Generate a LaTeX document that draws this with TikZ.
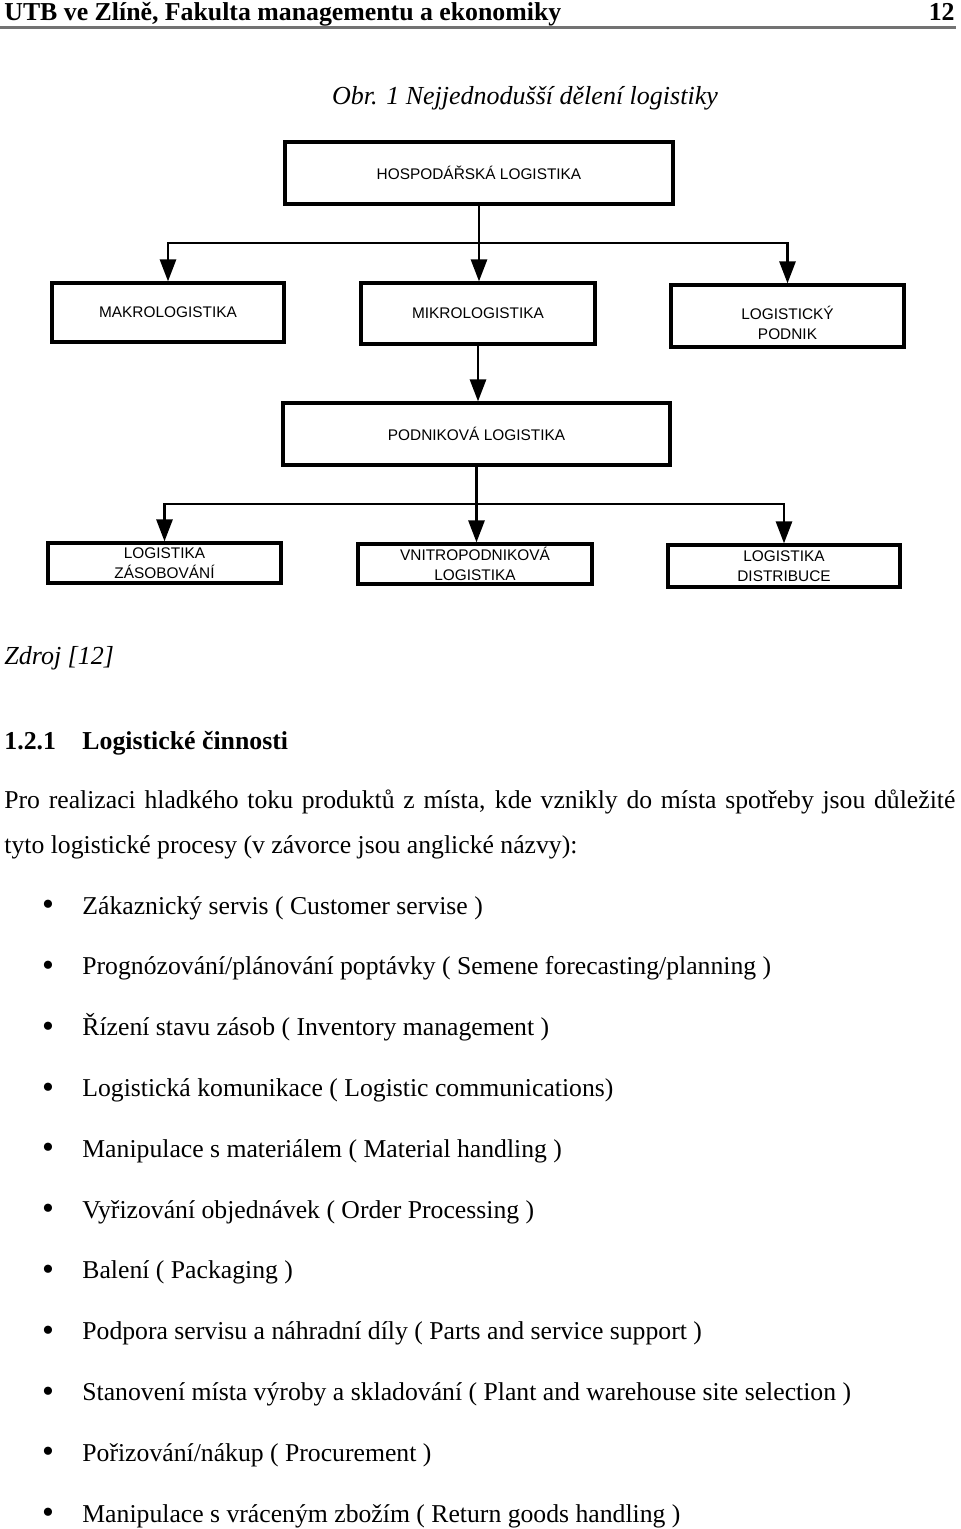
\documentclass[tikz,border=0pt]{standalone}
\usepackage{fontspec}
\setmainfont{Liberation Serif}
\newfontfamily\boxfont{Liberation Sans}
\usetikzlibrary{arrows.meta,positioning}

\begin{document}
\begin{tikzpicture}[x=0.5pt,y=-0.5pt,
  box/.style={draw,line width=1.6pt,inner sep=0pt,align=center,font=\boxfont\fontsize{7.7}{10}\selectfont},
  arr/.style={line width=1.4pt,-{Triangle[width=8pt,length=11pt]}},
  conn/.style={line width=1.4pt},
  txt/.style={anchor=base west,inner sep=0pt,font=\fontsize{12.85}{15}\selectfont},
  dot/.style={anchor=center,inner sep=0pt,font=\fontsize{17}{17}\selectfont}]
\useasboundingbox (0,0) rectangle (960,1529);

% page head
\node[txt,font=\bfseries\fontsize{12.9}{15}\selectfont] (head) at (4,21) {UTB ve Zlíně, Fakulta managementu a ekonomiky};
\node[anchor=base east,inner sep=0pt,font=\bfseries\fontsize{12.9}{15}\selectfont] (page) at (955,21) {12};
\draw[black!55,line width=1.5pt] (0,28) -- (956,28);

\node[anchor=base,inner sep=0pt,font=\itshape\fontsize{13}{15}\selectfont] (cap) at (525,105) {Obr. 1 Nejjednodušší dělení logistiky};

% boxes
\node[box,minimum width=194pt,minimum height=31pt] (hosp) at (479,173) {HOSPODÁŘSKÁ LOGISTIKA};
\node[box,minimum width=116pt,minimum height=29.5pt] (makro) at (168,312.5) {MAKROLOGISTIKA};
\node[box,minimum width=117pt,minimum height=30.5pt] (mikro) at (478,313.5) {MIKROLOGISTIKA};
\node[box,minimum width=116.5pt,minimum height=31pt] (podnik) at (787.5,316)
  {\raisebox{-5pt}[\height][\depth]{\begin{tabular}{@{}c@{}}LOGISTICKÝ\\PODNIK\end{tabular}}};
\node[box,minimum width=193.5pt,minimum height=31pt] (podnikova) at (476.5,434) {PODNIKOVÁ LOGISTIKA};
\node[box,minimum width=116.5pt,minimum height=20pt] (zasob) at (164.5,563) {LOGISTIKA\\ZÁSOBOVÁNÍ};
\node[box,minimum width=117pt,minimum height=20pt] (vnitro) at (475,564) {VNITROPODNIKOVÁ\\LOGISTIKA};
\node[box,minimum width=116pt,minimum height=21pt] (distr) at (784,566) {LOGISTIKA\\DISTRIBUCE};

% connectors
\coordinate (bus1) at (479,243);
\draw[conn] (hosp) -- (bus1);
\draw[arr] (bus1) -| (makro.north);
\draw[arr] (bus1) -- (bus1 |- mikro.north);
\draw[arr] (bus1) -| (podnik.north);
\draw[arr] (mikro.south) -- (mikro.south |- podnikova.north);
\coordinate (bus2) at (476.5,504);
\draw[conn] (podnikova) -- (bus2);
\draw[arr] (bus2) -| (zasob.north);
\draw[arr] (bus2) -- (bus2 |- vnitro.north);
\draw[arr] (bus2) -| (distr.north);

% text below
\node[txt,font=\itshape\fontsize{13}{15}\selectfont] (src) at (4,664) {Zdroj [12]};
\node[txt,font=\bfseries\fontsize{12.9}{15}\selectfont] (secnum) at (4,749) {1.2.1};
\node[txt,font=\bfseries\fontsize{12.9}{15}\selectfont] (sectitle) at (82,749) {Logistické činnosti};
\node[txt] (par1) at (4,808) {\makebox[475.5pt][s]{Pro realizaci hladkého toku produktů z místa, kde vznikly do místa spotřeby jsou důležité}};
\node[txt] (par2) at (4,853) {tyto logistické procesy (v závorce jsou anglické názvy):};

\foreach \t [count=\i from 0] in {Zákaznický servis ( Customer servise ),
  Prognózování/plánování poptávky ( Semene forecasting/planning ),
  Řízení stavu zásob ( Inventory management ),
  Logistická komunikace ( Logistic communications),
  Manipulace s materiálem ( Material handling ),
  Vyřizování objednávek ( Order Processing ),
  Balení ( Packaging ),
  Podpora servisu a náhradní díly ( Parts and service support ),
  Stanovení místa výroby a skladování ( Plant and warehouse site selection ),
  Pořizování/nákup ( Procurement ),
  Manipulace s vráceným zbožím ( Return goods handling )}{
  \node[dot] (b\i) at (48,908+60.8*\i) {•};
  \node[txt] (item\i) at (82,914+60.8*\i) {\t};
}
\end{tikzpicture}
\end{document}
